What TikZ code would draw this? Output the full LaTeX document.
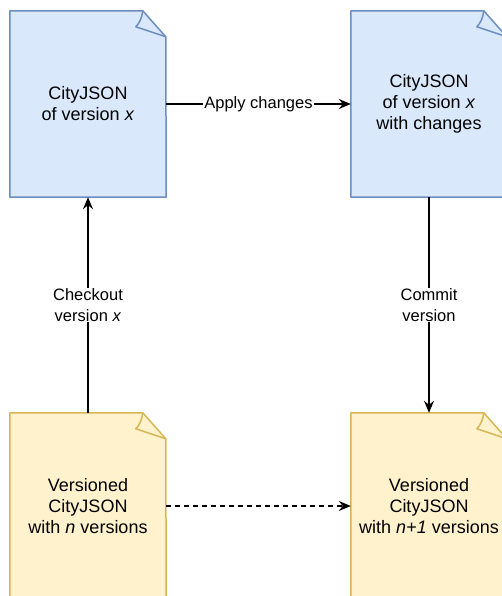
\documentclass[tikz,border=0pt]{standalone}
\usepackage{fontspec}
\setmainfont{Liberation Sans}
\usetikzlibrary{arrows.meta,backgrounds}
\definecolor{bluefill}{HTML}{DAE8FC}
\definecolor{bluedraw}{HTML}{6C8EBF}
\definecolor{yelfill}{HTML}{FFF2CC}
\definecolor{yeldraw}{HTML}{D6B656}
\newcommand\notebg[3]{%
  \filldraw[fill=#2,draw=#3,line width=1.5pt,line join=round]
    (#1.north west) -- ([shift={(133,0)}]#1.north west) -- ([shift={(156,26)}]#1.north west)
    -- (#1.south east) -- (#1.south west) -- cycle;
  \draw[draw=#3,line width=1.5pt,line join=round]
    ([shift={(133,0)}]#1.north west) .. controls ([shift={(132,7)}]#1.north west) and ([shift={(130,12)}]#1.north west) .. ([shift={(126,16)}]#1.north west)
    -- ([shift={(156,26)}]#1.north west);
}
\begin{document}
\begin{tikzpicture}[x=1pt,y=-1pt,
  doc/.style={rectangle, minimum width=156pt, minimum height=186pt, inner sep=0pt, align=center, font=\fontsize{18}{21}\selectfont},
  lbl/.style={fill=white, inner sep=1pt, align=center, font=\fontsize{16.5}{20.5}\selectfont},
  conn/.style={line width=1.5pt, -{Stealth[length=12pt,width=10pt,inset=4pt]}}]
\useasboundingbox (0,0) rectangle (502,596);
\node[doc] (tl) at (88,104) {CityJSON\\of version \textit{x}};
\node[doc] (tr) at (429,104) {CityJSON\\of version \textit{x}\\with changes};
\node[doc] (bl) at (88,506) {Versioned\\CityJSON\\with \textit{n} versions};
\node[doc] (br) at (429,506) {Versioned\\CityJSON\\with \textit{n+1} versions};
\begin{scope}[on background layer]
  \clip (0,0) rectangle (502,596);
  \notebg{tl}{bluefill}{bluedraw}
  \notebg{tr}{bluefill}{bluedraw}
  \notebg{bl}{yelfill}{yeldraw}
  \notebg{br}{yelfill}{yeldraw}
\end{scope}
\draw[conn] (tl.east) -- node[lbl] (l1) {Apply changes} (tr.west);
\draw[conn] (bl.north) -- node[lbl] (l2) {Checkout\\version \textit{x}} (tl.south);
\draw[conn] (tr.south) -- node[lbl] (l3) {Commit\\version} (br.north);
\draw[conn,dash pattern=on 4.5pt off 4.5pt] (bl.east) -- (br.west);
\end{tikzpicture}
\end{document}
